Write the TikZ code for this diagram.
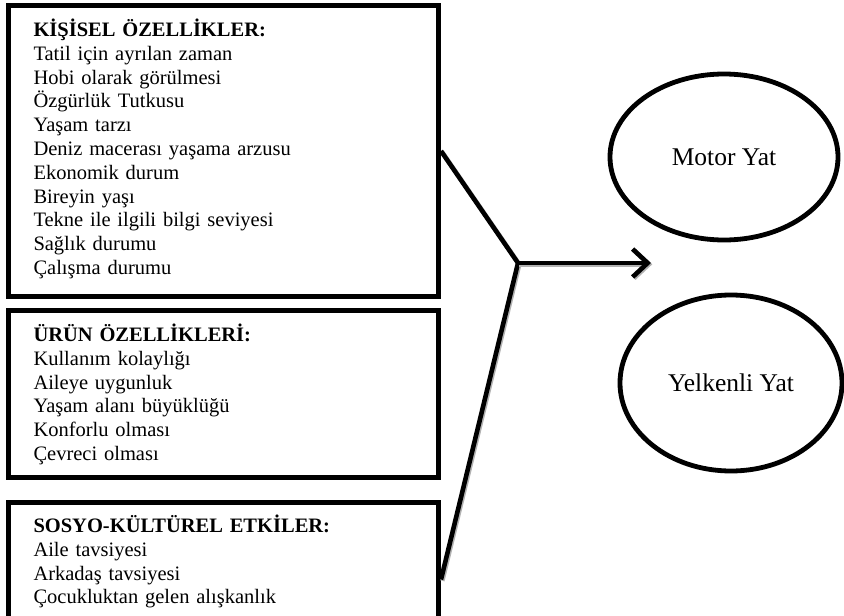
\documentclass[tikz,border=0pt]{standalone}
\usepackage{fontspec}
\setmainfont{Liberation Serif}
\usetikzlibrary{arrows.meta,positioning,shapes.geometric}

\begin{document}
\begin{tikzpicture}[
  x=1pt, y=-1pt,
  node distance=9pt,
  factorbox/.style={draw, line width=5pt, text width=380pt, inner xsep=25pt, inner ysep=0pt, align=left, font=\fontsize{20.5}{23.8}\selectfont},
  yachtype/.style={draw, ellipse, line width=4.8pt, inner sep=0pt, font=\fontsize{25.5}{30}\selectfont},
  link/.style={line width=4.6pt, preaction={draw=gray!60, line width=4.6pt, transform canvas={shift={(1.3pt,-1.3pt)}}}},
  arrow/.style={link, -{Straight Barb[length=15pt,width=28pt]}}
]
\useasboundingbox (0,0) rectangle (844,616);
\node[factorbox, anchor=north west, text height=31pt, text depth=260pt] (kisisel) at (6,3)
  {\textbf{KİŞİSEL ÖZELLİKLER:}\\ Tatil için ayrılan zaman\\ Hobi olarak görülmesi\\ Özgürlük Tutkusu\\ Yaşam tarzı\\ Deniz macerası yaşama arzusu\\ Ekonomik durum\\ Bireyin yaşı\\ Tekne ile ilgili bilgi seviyesi\\ Sağlık durumu\\ Çalışma durumu};
\node[factorbox, below=of kisisel, text height=31pt, text depth=136pt] (urun)
  {\textbf{ÜRÜN ÖZELLİKLERİ:}\\ Kullanım kolaylığı\\ Aileye uygunluk\\ Yaşam alanı büyüklüğü\\ Konforlu olması\\ Çevreci olması};
\node[factorbox, below=20pt of urun, text height=30pt, text depth=92pt] (sosyo)
  {\textbf{SOSYO-KÜLTÜREL ETKİLER:}\\ Aile tavsiyesi\\ Arkadaş tavsiyesi\\ Çocukluktan gelen alışkanlık};
\node[yachtype, minimum width=228pt, minimum height=166pt] (motor) at (724,157) {Motor Yat};
\node[yachtype, minimum width=222pt, minimum height=176pt] (yelken) at (731,383) {Yelkenli Yat};
\coordinate (hub) at (518,263);
\coordinate (tip) at (651,263);
\draw[link] (kisisel.east) -- (hub) -- ([yshift=-16pt]sosyo.east);
\draw[arrow] (hub) -- (tip);
\end{tikzpicture}
\end{document}
